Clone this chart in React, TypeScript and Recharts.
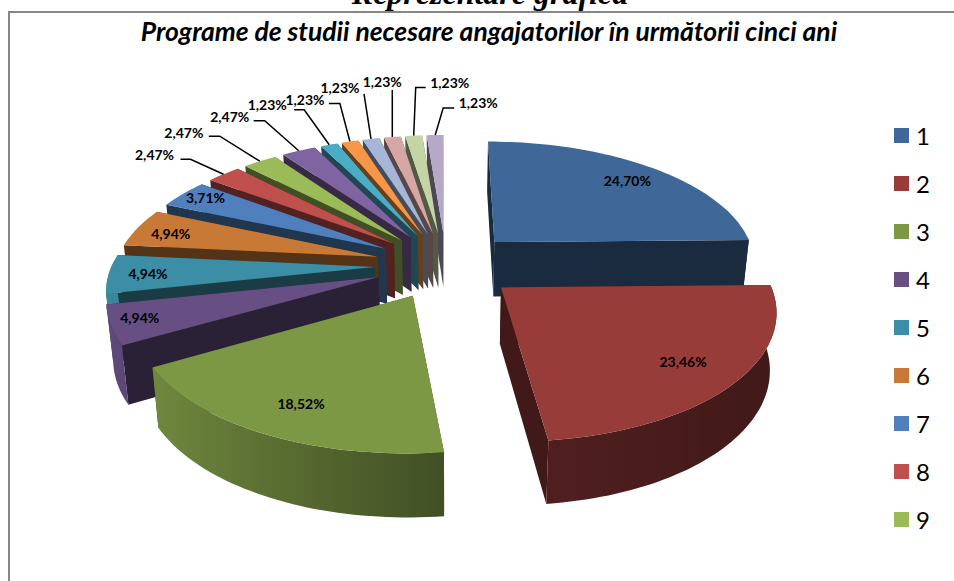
import { PieChart, Pie, Legend } from "recharts";

const shareValues = [24.7, 23.46, 18.52, 4.94, 4.94, 4.94, 3.71, 2.47, 2.47, 2.47, 1.23, 1.23, 1.23, 1.23, 1.23, 1.23];
const sliceNames = ["1", "2", "3", "4", "5", "6", "7", "8", "9", "10", "11", "12", "13", "14", "15", "16"];
const sliceColors = [
  "#3F6797", "#983C3A", "#7D9845", "#674F84", "#3B8EA5", "#C77935", "#4F80BD", "#C0504D",
  "#9BBB59", "#8064A2", "#4BACC6", "#F79646", "#A5B6D8", "#D6A6A5", "#C4D4A4", "#B6A9C7",
];
const legendCount = 9;

// labels that sit on the slice: radial spot, then a nudge in x/y
const insideLabels: Record<string, [number, number, number]> = {
  "1": [0.72, 17, -6],
  "2": [0.72, 19, 8],
  "3": [0.62, -25, 27],
  "4": [0.8, -27, 2],
  "5": [0.85, -1, 1],
  "6": [0.85, -2, 1],
  "7": [0.85, -6, -4],
};

// leader offsets from the slice edge: elbow x/y, line end x/y, text x/y
const leaders: Record<string, number[]> = {
  "8": [-33, -15, -43, -15, -69, -20],
  "9": [-40, -25, -51, -25, -76, -29],
  "10": [-34, -30, -45, -30, -69, -34],
  "11": [-25, -35, -35, -35, -62, -40],
  "12": [-10, -38, -21, -38, -45, -42],
  "13": [-7, -45, -7, -45, -31, -51],
  "14": [0, -47, 0, -47, -10, -55],
  "15": [2, -48, 12, -48, 36, -53],
  "16": [8, -27, 19, -27, 43, -32],
};

const CX = 446;
const CY = 265;
const RADIUS = 263;
const EXPLODE = 0.27;
const TILT = 122.6;
const PERSP = 0.155;
const DEPTH = 55.5;

const rad = (a: number) => (a * Math.PI) / 180;

// ground plane -> screen; X right, Z away from the viewer, in radius units
function project(X: number, Z: number) {
  const s = 1 / (1 + PERSP * Z);
  return { x: CX + X * RADIUS * s, y: CY - Z * TILT * s, s };
}

function drop(p: { x: number; y: number; s: number }) {
  return { x: CX + (p.x - CX) * 0.98, y: p.y + DEPTH * Math.pow(p.s, 0.67), s: p.s };
}

function slicePoint(mid: number, angle: number, r: number) {
  return project(
    EXPLODE * Math.cos(rad(mid)) + r * Math.cos(rad(angle)),
    EXPLODE * Math.sin(rad(mid)) + r * Math.sin(rad(angle))
  );
}

function shadeColor(hex: string, f: number) {
  const n = parseInt(hex.slice(1), 16);
  const c = [(n >> 16) & 255, (n >> 8) & 255, n & 255].map((v) => Math.round(v * f));
  return `rgb(${c[0]},${c[1]},${c[2]})`;
}

// lit from the left, so the rim darkens toward the right
function rimShade(angle: number) {
  const u = -Math.cos(rad(angle));
  return u < -0.12 ? 0.41 + 0.125 * (u + 1) : 0.52 + 0.385 * (u + 0.12);
}

const pts = (list: { x: number; y: number }[]) =>
  list.map((p) => `${p.x.toFixed(1)},${p.y.toFixed(1)}`).join(" ");

function Slice3D(props: any) {
  const { startAngle, endAngle, fill, name } = props;
  const mid = (startAngle + endAngle) / 2;
  const apex = slicePoint(mid, mid, 0);
  const steps = Math.max(2, Math.ceil(Math.abs(endAngle - startAngle) / 1.5));
  const arc = [];
  for (let i = 0; i <= steps; i++) {
    const a = startAngle + ((endAngle - startAngle) * i) / steps;
    arc.push({ a, p: slicePoint(mid, a, 1) });
  }
  const wall = shadeColor(fill, 0.42);
  const front = arc.filter((q) => Math.sin(rad(q.a)) <= 0.05);
  const id = `rim-${name}-${Math.round(startAngle)}`;
  const sorted = [...front].sort((m, n) => m.p.x - n.p.x);
  const x1 = sorted.length ? sorted[0].p.x : 0;
  const x2 = sorted.length ? sorted[sorted.length - 1].p.x : 1;
  const first = arc[0].p;
  const last = arc[steps].p;
  return (
    <g>
      <polygon points={pts([apex, first, drop(first), drop(apex)])} fill={wall} />
      <polygon points={pts([apex, last, drop(last), drop(apex)])} fill={wall} />
      {front.length > 1 && (
        <>
          <defs>
            <linearGradient id={id} gradientUnits="userSpaceOnUse" x1={x1} x2={x2} y1={0} y2={0}>
              {sorted.map((q, i) => (
                <stop
                  key={i}
                  offset={x2 > x1 ? (q.p.x - x1) / (x2 - x1) : 0}
                  stopColor={shadeColor(fill, rimShade(q.a))}
                />
              ))}
            </linearGradient>
          </defs>
          <polygon
            points={pts([...front.map((q) => q.p), ...[...front].reverse().map((q) => drop(q.p))])}
            fill={`url(#${id})`}
          />
        </>
      )}
      <polygon points={pts([apex, ...arc.map((q) => q.p)])} fill={fill} />
    </g>
  );
}

function SliceLabel(props: any) {
  const { midAngle, payload, value } = props;
  const name = payload.name;
  const text = `${Number(value).toFixed(2).replace(".", ",")}%`;
  const style = { fontFamily: "Lato", fontWeight: 700, fontSize: 14, fill: "#000" };
  const inside = insideLabels[name];
  if (inside) {
    const p = slicePoint(midAngle, midAngle, inside[0]);
    return (
      <text x={p.x + inside[1]} y={p.y + inside[2]} textAnchor="middle" dominantBaseline="central" {...style}>
        {text}
      </text>
    );
  }
  const a = slicePoint(midAngle, midAngle, 1);
  const l = leaders[name];
  return (
    <g>
      <polyline
        points={pts([a, { x: a.x + l[0], y: a.y + l[1] }, { x: a.x + l[2], y: a.y + l[3] }])}
        fill="none"
        stroke="#000"
        strokeWidth={1.5}
      />
      <text x={a.x + l[4]} y={a.y + l[5]} textAnchor="middle" dominantBaseline="central" {...style}>
        {text}
      </text>
    </g>
  );
}

function SideLegend() {
  return (
    <div>
      {sliceNames.slice(0, legendCount).map((name, i) => (
        <div key={name} style={{ height: 48, display: "flex", alignItems: "center" }}>
          <span style={{ width: 15, height: 15, background: sliceColors[i], display: "inline-block" }} />
          <span style={{ marginLeft: 7, fontFamily: "Lato", fontSize: 24, color: "#000" }}>{name}</span>
        </div>
      ))}
    </div>
  );
}

export default function App() {
  const rows = shareValues.map((value, i) => ({ name: sliceNames[i], value, fill: sliceColors[i] }));
  // slices are painted back to front: first slice, then the rest running the other way round
  const painted = [rows[0], ...rows.slice(1).reverse()];
  const start = 90 - (shareValues[0] / 100) * 360;

  return (
    <div style={{ position: "fixed", left: 0, top: 0, width: 954, height: 581, overflow: "hidden", background: "#fff" }}>
      <div
        style={{
          position: "absolute",
          left: 290,
          width: 400,
          top: -25,
          textAlign: "center",
          fontFamily: "Liberation Serif",
          fontWeight: 700,
          fontStyle: "italic",
          fontSize: 32,
          color: "#000",
          whiteSpace: "nowrap",
        }}
      >
        Reprezentare grafică
      </div>
      <div
        style={{
          position: "absolute",
          left: 8,
          top: 11,
          width: 960,
          height: 580,
          border: "2px solid #868686",
          background: "#fff",
        }}
      />
      <div
        style={{
          position: "absolute",
          left: 0,
          width: 978,
          top: 15,
          textAlign: "center",
          fontFamily: "Lato",
          fontWeight: 700,
          fontStyle: "italic",
          fontSize: 26.5,
          color: "#000",
          whiteSpace: "nowrap",
        }}
      >
        Programe de studii necesare angajatorilor în următorii cinci ani
      </div>
      <div style={{ position: "absolute", left: 0, top: 0 }}>
        <PieChart width={954} height={581} margin={{ top: 0, right: 0, bottom: 0, left: 0 }}>
          <Pie
            data={painted}
            dataKey="value"
            nameKey="name"
            cx={CX}
            cy={CY}
            outerRadius={RADIUS}
            startAngle={start}
            endAngle={start + 360}
            paddingAngle={0}
            stroke="none"
            shape={Slice3D}
            inactiveShape={Slice3D}
            activeShape={Slice3D}
            label={SliceLabel}
            labelLine={false}
            isAnimationActive={false}
          />
          <Legend
            content={SideLegend}
            wrapperStyle={{ left: 894, top: 111.5, bottom: "auto", width: 60, height: 432 }}
          />
        </PieChart>
      </div>
    </div>
  );
}
